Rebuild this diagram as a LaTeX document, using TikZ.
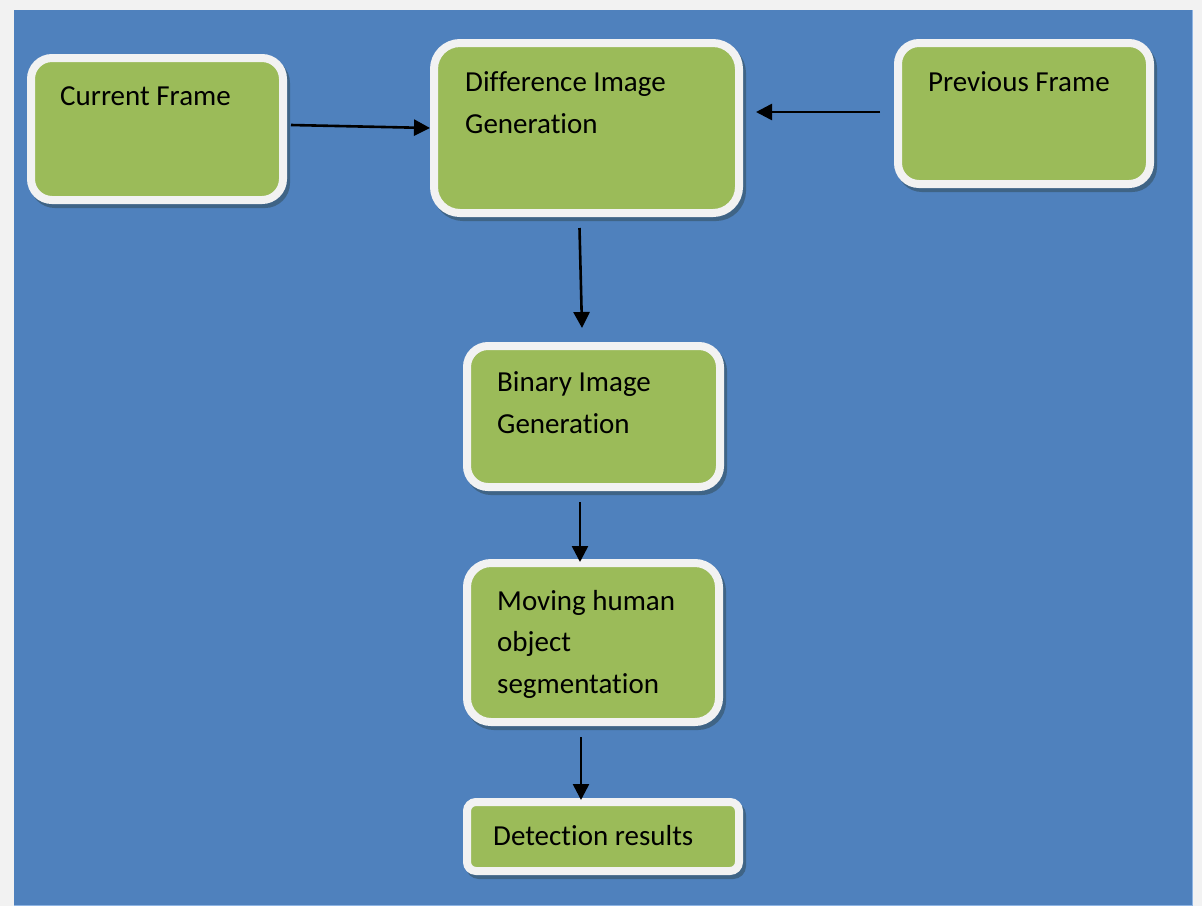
\documentclass[tikz,border=0pt]{standalone}
\usepackage{fontspec}
\setmainfont{Carlito}[Ligatures=NoCommon]
\usetikzlibrary{arrows.meta}
\definecolor{pagebg}{HTML}{F2F2F2}
\definecolor{canvasblue}{HTML}{4F81BD}
\definecolor{edgeblue}{HTML}{8EB4E3}
\definecolor{boxgreen}{HTML}{9BBB59}
\definecolor{boxrim}{HTML}{F2F2F2}
\definecolor{boxshadow}{HTML}{3F6486}
\tikzset{
  stagebox/.style={
    rectangle, draw=boxrim, fill=boxgreen, line width=8pt,
    inner sep=0pt, outer sep=0pt,
    preaction={draw=boxshadow, fill=boxshadow, line width=8pt,
      transform canvas={shift={(3pt,-4pt)}}}},
  stagetext/.style={anchor=base west, align=left, inner sep=0pt,
    font=\fontsize{29}{41.5}\selectfont},
  flow/.style={draw=black, line width=2.6pt,
    -{Triangle[length=16pt,width=16pt]}}
}
\begin{document}
\begin{tikzpicture}[x=1pt,y=-1pt]
  % page and blue canvas
  \fill[pagebg] (0,0) rectangle (1202,906);
  \useasboundingbox (0,0) rectangle (1202,906);
  \fill[canvasblue] (14,10) rectangle (1192,906);
  \draw[edgeblue, line width=1pt] (1192,10) -- (1192,905.5) -- (14,905.5);

  % processing stages
  \node[stagebox, rounded corners=21pt, minimum width=252pt, minimum height=142pt] (cur) at (157,129) {};
  \node[stagebox, rounded corners=26pt, minimum width=305pt, minimum height=170pt] (diff) at (586.5,128) {};
  \node[stagebox, rounded corners=21pt, minimum width=252pt, minimum height=141pt] (prev) at (1024,113.5) {};
  \node[stagebox, rounded corners=21pt, minimum width=253pt, minimum height=141pt] (bin) at (593.5,416.5) {};
  \node[stagebox, rounded corners=24pt, minimum width=252pt, minimum height=159pt] (mov) at (593,642.5) {};
  \node[stagebox, rounded corners=9pt, minimum width=272pt, minimum height=69pt] (det) at (603,836.5) {};

  % stage captions (anchored at the baseline of their last line)
  \node[stagetext] (curtxt) at (60,105) {Current Frame};
  \node[stagetext] (difftxt) at (465,133) {Difference Image\\Generation};
  \node[stagetext] (prevtxt) at (928,91) {Previous Frame};
  \node[stagetext] (bintxt) at (497,433) {Binary Image\\Generation};
  \node[stagetext] (movtxt) at (497,693) {Moving human\\object\\segmentation};
  \node[stagetext] (dettxt) at (493,845) {Detection results};

  % data flow
  \draw[flow] ([shift={(8,-4)}]cur.east) -- ([shift={(-4,0)}]diff.west);
  \draw[flow] ([shift={(-18,-1.5)}]prev.west) -- ([shift={(17,-16)}]diff.east);
  \draw[flow] ([shift={(-7,15)}]diff.south) -- ([shift={(-11.5,-18)}]bin.north);
  \draw[flow] ([shift={(-13.5,15)}]bin.south) -- ([shift={(-13,-1)}]mov.north);
  \draw[flow] ([shift={(-12,15)}]mov.south) -- ([shift={(-22,-2)}]det.north);
\end{tikzpicture}
\end{document}
